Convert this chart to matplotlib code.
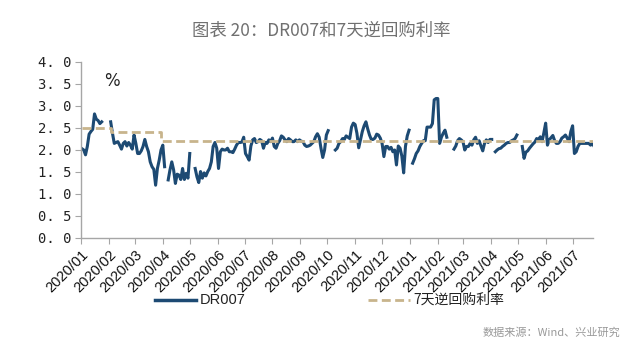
import numpy as np
import pandas as pd
import matplotlib
matplotlib.use("Agg")
import matplotlib.pyplot as plt
from matplotlib.lines import Line2D

nan = np.nan
# DR007 sampled every 2 calendar days from 2020-01-02 (NaN = holiday gaps)
dr007 = [
    2.03, 2.00, 1.89, 2.08, 2.36, 2.42, 2.47, 2.82, 2.70, 2.67,
    2.60, 2.64, nan, nan, nan, nan, 2.64, 2.38, 2.15, 2.17,
    2.19, 2.11, 2.02, 2.15, 2.19, 2.09, 2.17, 2.11, 2.02, 2.34,
    2.15, 1.92, 1.92, 1.98, 2.08, 2.24, 2.08, 1.96, 1.73, 1.62,
    1.56, 1.20, 1.58, 1.77, 2.00, 2.11, 1.62, nan, 1.32, 1.55,
    1.73, 1.55, 1.24, 1.45, 1.43, 1.33, 1.58, 1.33, 1.47, 1.36,
    1.92, nan, nan, 1.58, 1.39, 1.26, 1.51, 1.36, 1.48, 1.41,
    1.51, 1.58, 1.73, 2.08, 2.17, 2.04, 1.58, 1.96, 2.02, 2.00,
    2.00, 2.04, 1.96, 1.96, 1.94, 2.02, 2.11, 2.17, 2.17, 2.18,
    2.29, 1.92, 1.85, 1.77, 2.09, 2.23, 2.26, 2.17, 2.19, 2.24,
    2.21, 2.04, 2.17, 2.15, 2.23, 2.19, 2.27, 2.08, 2.04, 2.15,
    2.21, 2.32, 2.29, 2.23, 2.19, 2.26, 2.23, 2.19, 2.19, 2.23,
    2.19, 2.23, 2.20, 2.19, 2.11, 2.08, 2.09, 2.11, 2.15, 2.19,
    2.30, 2.37, 2.29, 2.04, 1.83, 2.00, 2.34, 2.44, nan, nan,
    nan, 2.00, 2.04, 2.15, 2.19, 2.26, 2.24, 2.32, 2.29, 2.26,
    2.52, 2.61, 2.58, 2.38, 2.05, 2.23, 2.42, 2.55, 2.64, 2.48,
    2.34, 2.24, 2.24, 2.27, 2.36, 2.34, 2.27, 2.15, 1.85, 2.08,
    2.08, 2.02, 2.06, 1.96, 2.00, 1.66, 2.09, 2.04, 1.86, 1.48,
    2.08, 2.32, 2.45, nan, 1.70, 1.80, 1.92, 1.98, 2.08, 2.15,
    2.21, 2.21, 2.52, 2.52, 2.52, 2.60, 3.14, 3.17, 3.17, 2.15,
    2.29, 2.38, 2.45, 2.29, nan, nan, nan, 2.02, 2.09, 2.21,
    2.26, 2.23, 2.19, 2.00, 2.08, 2.08, 2.15, 2.11, 2.23, 2.29,
    2.15, 2.21, 2.09, 1.98, 2.15, 2.23, 2.17, 2.24, 2.24, nan,
    1.96, 2.00, 2.03, 2.04, 2.08, 2.11, 2.15, 2.17, 2.17, 2.21,
    2.23, 2.26, 2.34, nan, nan, 2.08, 1.81, 1.95, 1.98, 2.04,
    2.09, 2.14, 2.18, 2.26, 2.23, 2.30, 2.19, 2.39, 2.61, 2.11,
    2.23, 2.28, 2.33, 2.21, 2.15, 2.15, 2.19, 2.27, 2.30, 2.34,
    2.27, 2.19, 2.42, 2.55, 1.92, 1.96, 2.08, 2.15, 2.15, 2.15,
    2.15, 2.15, 2.15, 2.11, 2.15, 2.08,
]
dr_start = "2020-01-02"
dr_step_days = 2

# 7-day reverse repo rate: step changes
repo_dates = ["2020-01-02", "2020-02-03", "2020-03-30", "2021-07-24"]
repo_rates = [2.50, 2.40, 2.20, 2.20]

month_ticks = pd.date_range("2020-01-01", "2021-07-01", freq="MS")
month_labels = [d.strftime("%Y/%m") for d in month_ticks]
yticks = [0.0, 0.5, 1.0, 1.5, 2.0, 2.5, 3.0, 3.5, 4.0]

title = "图表 20：DR007和7天逆回购利率"
source = "数据来源：Wind、兴业研究"
legend_labels = ["DR007", "7天逆回购利率"]

plt.rcParams["font.family"] = ["Noto Sans CJK SC", "DejaVu Sans"]

blue = "#1d4a73"
tan = "#c8b48c"
narrow = ["Liberation Sans", "DejaVu Sans"]

fig = plt.figure(figsize=(6.4, 3.54), dpi=100)
ax = fig.add_axes([0.1266, 0.3277, 0.8004, 0.4972])

dates = pd.date_range(dr_start, periods=len(dr007), freq=f"{dr_step_days}D")
ax.plot(dates, dr007, color=blue, lw=2.2, solid_joinstyle="round", zorder=2)
ax.plot(pd.to_datetime(repo_dates), repo_rates, color=tan, lw=2.0,
        ls=(0, (3.2, 1.6)), drawstyle="steps-post", zorder=3)

ax.set_xlim(pd.Timestamp("2020-01-01"), pd.Timestamp("2021-07-24"))
ax.set_ylim(0, 4.0)
ax.set_yticks(yticks)
ax.set_yticklabels([f"{v:.1f}".replace(".", ". ") for v in yticks],
                   family="DejaVu Sans Mono", fontsize=10, color="#222222")
ax.set_xticks(month_ticks)
ax.set_xticklabels(month_labels, rotation=45, ha="right", va="top",
                   rotation_mode="anchor", fontsize=10.5, family=narrow,
                   color="#111111")

for s in ["top", "right"]:
    ax.spines[s].set_visible(False)
for s in ["left", "bottom"]:
    ax.spines[s].set_color("#a6a6a6")
    ax.spines[s].set_linewidth(1.0)
ax.tick_params(axis="y", length=4, color="#a6a6a6", pad=3)
ax.tick_params(axis="x", length=4, color="#a6a6a6", pad=3)

ax.text(0.045, 0.89, "%", transform=ax.transAxes, fontsize=12,
        family="DejaVu Sans", color="#222222", va="center")

fig.text(0.502, 0.912, title, ha="center", va="center", fontsize=12.5,
         color="#707070")

# legend (manual)
ly = 1 - 300 / 354
fig.add_artist(Line2D([155 / 640, 196 / 640], [ly, ly], color=blue, lw=2.5))
fig.text(200 / 640, ly, legend_labels[0], ha="left", va="center", fontsize=10.5,
         family=narrow, color="#222222")
fig.add_artist(Line2D([368 / 640, 410 / 640], [ly, ly], color=tan, lw=2.0,
                      ls=(0, (3.2, 1.6))))
fig.text(413 / 640, ly, legend_labels[1], ha="left", va="center", fontsize=10,
         color="#222222")

fig.text(620 / 640, 1 - 333 / 354, source, ha="right", va="center",
         fontsize=8, color="#999999")

fig.savefig("out.png", dpi=100)
